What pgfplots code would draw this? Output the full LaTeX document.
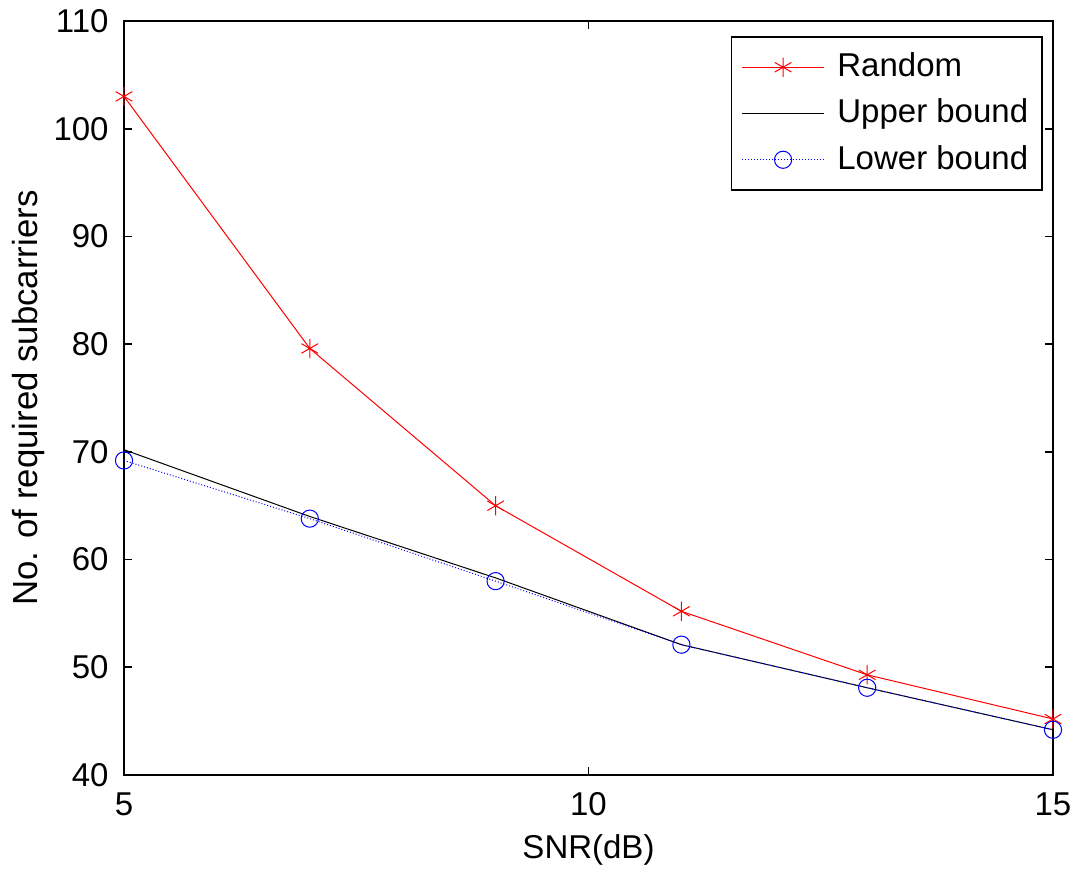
\documentclass[border=0pt]{standalone}
\usepackage{pgfplots}
\pgfplotsset{compat=1.18}
\usepackage{fontspec}
\setmainfont{Liberation Sans}
\begin{document}
\fontsize{16.5}{19}\selectfont
\begin{tikzpicture}
\begin{axis}[
  scale only axis,
  width=464.5pt, height=377pt,
  xmin=5, xmax=15, ymin=40, ymax=110,
  xtick={5,10,15}, ytick={40,50,...,110},
  tick align=inside, major tick length=4pt,
  tick style={black, line width=0.8pt},
  axis line style={line width=0.8pt},
  /pgf/number format/assume math mode=true,
  tick label style={font=\fontsize{16.5}{19}\selectfont},
  xticklabel style={yshift=-3pt},
  yticklabel style={xshift=-2pt},
  xlabel={SNR(dB)}, ylabel={No. of required subcarriers},
  xlabel style={at={(axis description cs:0.5,-0.0995)}, anchor=center},
  ylabel style={at={(axis description cs:-0.1033,0.5)}, anchor=center, rotate=0, font=\fontsize{17.4}{20}\selectfont},
  legend style={at={(axis description cs:1,1)}, anchor=north east,
    xshift=-5pt, yshift=-7.5pt, draw=black, line width=0.8pt,
    font=\fontsize{16.5}{19}\selectfont, row sep=4.7pt,
    inner xsep=5pt, inner ysep=6pt},
  legend cell align=left,
  legend image code/.code={
    \draw[#1] (0cm,0cm) -- (1.45cm,0cm);
    \draw[#1, only marks] plot coordinates {(0.725cm,0cm)};
    \path (1.6cm,0cm);
  },
]
\addplot[red, line width=0.5pt, mark=asterisk, mark size=4.8pt, mark options={solid}]
  coordinates {(5,103.0) (7,79.6) (9,65.0) (11,55.2) (13,49.3) (15,45.2)};
\addlegendentry{Random}
\addplot[black, line width=0.5pt]
  coordinates {(5,70.2) (7,64.0) (9,58.3) (11,52.1) (13,48.1) (15,44.2)};
\addlegendentry{Upper bound}
\addplot[blue, line width=0.5pt, densely dotted, mark=o, mark size=4.3pt, mark options={solid}]
  coordinates {(5,69.2) (7,63.8) (9,58.0) (11,52.1) (13,48.1) (15,44.2)};
\addlegendentry{Lower bound}
\end{axis}
\pgfresetboundingbox
\path (-62pt,-50pt) rectangle (480pt,387.5pt);
\end{tikzpicture}
\end{document}
